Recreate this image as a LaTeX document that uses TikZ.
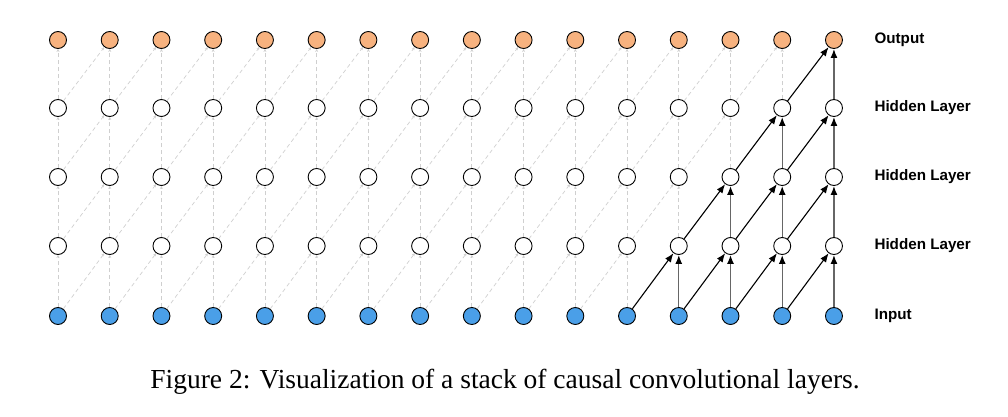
\documentclass[tikz,border=0pt]{standalone}
\usepackage{fontspec}
\setmainfont{Liberation Serif}
\newfontfamily\labfont{Liberation Sans}
\usetikzlibrary{arrows.meta}
\definecolor{outc}{HTML}{F7B27F}
\definecolor{inc}{HTML}{4A9FE8}
\definecolor{dashc}{HTML}{CFCFCF}
\tikzset{
  unit/.style={circle, draw=black, line width=0.9pt, minimum size=17pt, inner sep=0pt},
  inunit/.style={unit, fill=inc},
  outunit/.style={unit, fill=outc},
  hidunit/.style={unit, fill=white},
  ghost/.style={draw=dashc, dashed, dash pattern=on 4pt off 3pt, line width=0.7pt, -{Stealth[length=3pt,width=3pt]}},
  diagarrow/.style={draw=black, line width=1.1pt, -{Latex[length=9pt,width=7pt]}},
  vertarrow/.style={draw=black!60, line width=1.4pt, -{Latex[length=9pt,width=7pt,color=black]}},
  lab/.style={anchor=west, font=\labfont\bfseries\fontsize{15.2}{17}\selectfont},
}
\begin{document}
\begin{tikzpicture}[x=1pt,y=1pt]
\useasboundingbox (0,0) rectangle (1008,416);
\foreach \c in {0,...,15} {
  \pgfmathsetmacro{\xx}{58+\c*51.73}
  \node[inunit] (n-\c-0) at (\xx,100) {};
  \node[hidunit] (n-\c-1) at (\xx,170) {};
  \node[hidunit] (n-\c-2) at (\xx,239) {};
  \node[hidunit] (n-\c-3) at (\xx,308) {};
  \node[outunit] (n-\c-4) at (\xx,376) {};
}
% ghost connections
\foreach \r [evaluate=\r as \rn using int(\r+1)] in {0,...,3} {
  \foreach \c in {0,...,15} {
    \pgfmathtruncatemacro{\act}{\c>=12+\r ? 1 : 0}
    \ifnum\act=0
      \path[ghost] (n-\c-\r) -- (n-\c-\rn);
    \fi
  }
  \foreach \c [evaluate=\c as \cn using int(\c+1)] in {0,...,14} {
    \pgfmathtruncatemacro{\act}{\c>=11+\r ? 1 : 0}
    \ifnum\act=0
      \path[ghost] (n-\c-\r) -- (n-\cn-\rn);
    \fi
  }
}
% active connections
\foreach \r [evaluate=\r as \rn using int(\r+1)] in {0,...,3} {
  \pgfmathtruncatemacro{\st}{12+\r}
  \foreach \c in {\st,...,15} {
    \path[vertarrow] (n-\c-\r) -- (n-\c-\rn);
  }
  \pgfmathtruncatemacro{\sd}{11+\r}
  \foreach \c [evaluate=\c as \cn using int(\c+1)] in {\sd,...,14} {
    \path[diagarrow] (n-\c-\r) -- (n-\cn-\rn);
  }
}
\node[lab] (l4) at (871,376) {Output};
\node[lab] (l3) at (871,308) {Hidden Layer};
\node[lab] (l2) at (871,239) {Hidden Layer};
\node[lab] (l1) at (871,170) {Hidden Layer};
\node[lab] (l0) at (871,100) {Input};
\node[font=\fontsize{27.5}{30}\selectfont] (cap) at (505,34) {Figure 2: Visualization of a stack of causal convolutional layers.};
\end{tikzpicture}
\end{document}
